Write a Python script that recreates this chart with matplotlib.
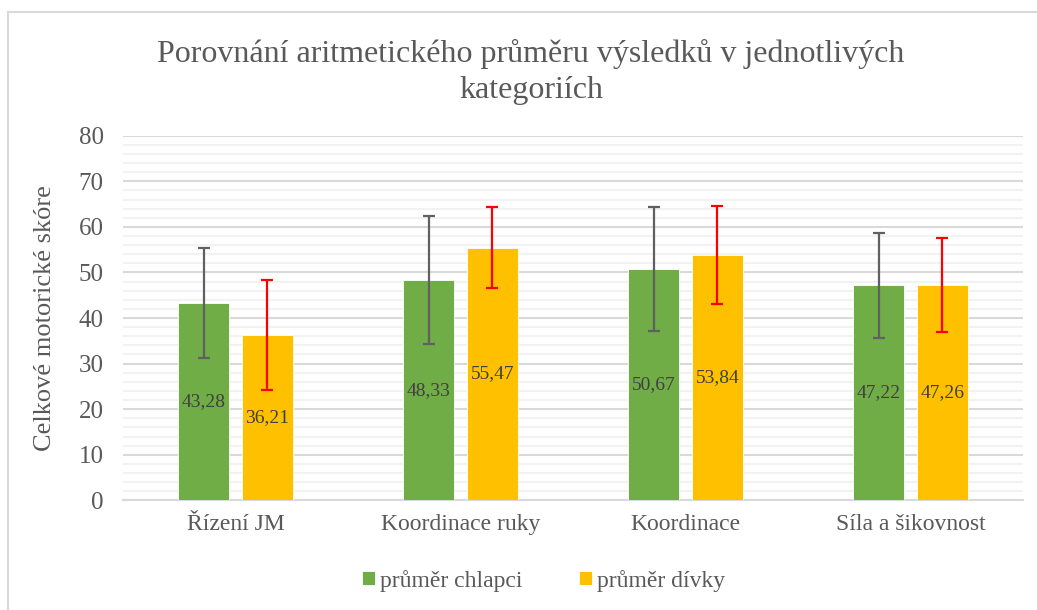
import matplotlib.pyplot as plt
import numpy as np
from matplotlib.patches import Rectangle
from matplotlib.ticker import MultipleLocator

plt.rcParams['font.family'] = ['Liberation Serif', 'DejaVu Serif']

# data
categories = ['Řízení JM', 'Koordinace ruky', 'Koordinace', 'Síla a šikovnost']
boys = [43.28, 48.33, 50.67, 47.22]
girls = [36.21, 55.47, 53.84, 47.26]
boys_err = [12.0, 14.0, 13.6, 11.5]
girls_err = [12.1, 8.8, 10.7, 10.3]

text_col = '#595959'
green = '#70AD47'
orange = '#FFC000'

fig = plt.figure(figsize=(10.37, 6.10), dpi=100)
ax = fig.add_axes([0.1186, 0.1798, 0.8679, 0.5977])

# chart area border
fig.patches.append(Rectangle((8 / 1037, -0.1), 1.2, 1 - 12 / 610 + 0.1,
                             transform=fig.transFigure, fill=False,
                             edgecolor='#d9d9d9', linewidth=1.5))

x = np.arange(len(categories))
w = 0.227
off = 0.142

b1 = ax.bar(x - off, boys, w, color=green, edgecolor='white', linewidth=0.6,
            label='průměr chlapci', zorder=3)
b2 = ax.bar(x + off, girls, w, color=orange, edgecolor='white', linewidth=0.6,
            label='průměr dívky', zorder=3)
ax.errorbar(x - off, boys, yerr=boys_err, fmt='none', ecolor='#606060',
            elinewidth=1.6, capsize=4.5, capthick=1.6, zorder=4)
ax.errorbar(x + off, girls, yerr=girls_err, fmt='none', ecolor='#ff0000',
            elinewidth=1.6, capsize=4.5, capthick=1.6, zorder=4)

for bars, vals in [(b1, boys), (b2, girls)]:
    for r, v in zip(bars, vals):
        ax.text(r.get_x() + r.get_width() / 2, v / 2,
                f'{v:.2f}'.replace('.', ','), ha='center', va='center',
                fontsize=14, color='#404040', zorder=5)

ax.set_xlim(-0.5, len(categories) - 0.5)
ax.set_ylim(0, 80)
ax.yaxis.set_major_locator(MultipleLocator(10))
ax.yaxis.set_minor_locator(MultipleLocator(2))
ax.grid(axis='y', which='major', color='#d9d9d9', linewidth=1.5, zorder=0)
ax.grid(axis='y', which='minor', color='#f2f2f2', linewidth=1.5, zorder=0)
ax.set_axisbelow(True)
for s in ['top', 'right', 'left']:
    ax.spines[s].set_visible(False)
ax.spines['bottom'].set_color('#d9d9d9')
ax.spines['bottom'].set_linewidth(1.5)

ax.set_xticks(x)
ax.set_xticklabels(categories, fontsize=17, color=text_col)
ax.tick_params(axis='y', labelsize=18, labelcolor=text_col, length=0, pad=14)
ax.tick_params(axis='y', which='minor', length=0)
ax.tick_params(axis='x', length=0, pad=10)
ax.set_ylabel('Celkové motorické skóre', fontsize=19, color=text_col, labelpad=16)

fig.text(0.512, 0.882, 'Porovnání aritmetického průměru výsledků v jednotlivých\nkategoriích',
         ha='center', va='center', fontsize=23, color=text_col, linespacing=1.3)

fig.legend(handles=[b1, b2], loc='center', bbox_to_anchor=(0.524, 0.048), ncol=2,
           frameon=False, fontsize=17, labelcolor=text_col, handlelength=0.55,
           handleheight=0.55, handletextpad=0.2, columnspacing=2.4)

fig.savefig('out.png', dpi=100)
